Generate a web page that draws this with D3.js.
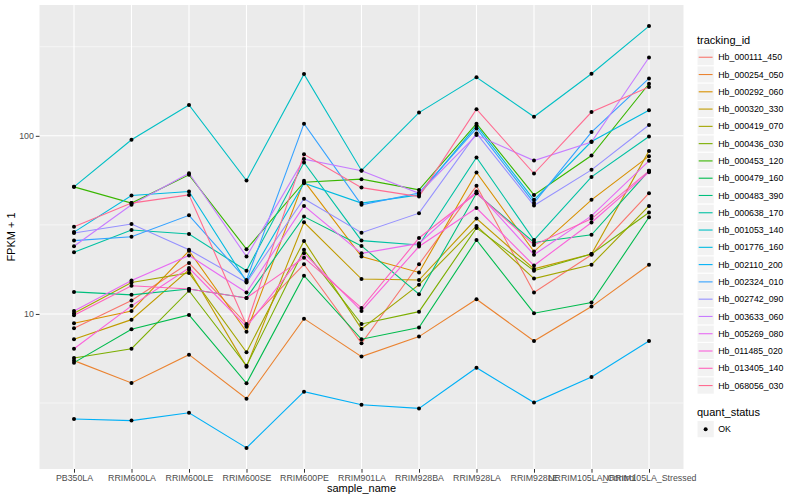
<!DOCTYPE html>
<html>
<head>
<meta charset="utf-8">
<script src="https://cdn.jsdelivr.net/npm/d3@7"></script>
<style>
  body { margin: 0; background: #fff; }
  text { font-family: "Liberation Sans", Arial, sans-serif; }
</style>
</head>
<body>
<div id="chart"></div>
<script>
'use strict';

// ------------------------------------
// DATA (FPKM + 1)
// ------------------------------------
const samples = ["PB350LA", "RRIM600LA", "RRIM600LE", "RRIM600SE", "RRIM600PE", "RRIM901LA",
  "RRIM928BA", "RRIM928LA", "RRIM928LE", "NRRIM105LA_Control", "NRRIM105LA_Stressed"];

const trackingIds = ["Hb_000111_450", "Hb_000254_050", "Hb_000292_060", "Hb_000320_330",
  "Hb_000419_070", "Hb_000436_030", "Hb_000453_120", "Hb_000479_160", "Hb_000483_390",
  "Hb_000638_170", "Hb_001053_140", "Hb_001776_160", "Hb_002110_200", "Hb_002324_010",
  "Hb_002742_090", "Hb_003633_060", "Hb_005269_080", "Hb_011485_020", "Hb_013405_140",
  "Hb_068056_030"];

const lineColors = ["#F8766D", "#EA8331", "#D89000", "#C09B00", "#A3A500", "#7CAE00",
  "#39B600", "#00BB4E", "#00BF7D", "#00C1A3", "#00BFC4", "#00BAE0", "#00B0F6", "#35A2FF",
  "#9590FF", "#C77CFF", "#E76BF3", "#FA62DB", "#FF62BC", "#FF6C91"];

// one row per tracking_id, one value per sample
const fpkm = [
  [8.31, 11.9, 19.3, 8.78, 19.0, 6.84, 19.0, 52.4, 13.2, 21.5, 47.6],
  [5.47, 4.10, 5.91, 3.34, 9.41, 5.76, 7.46, 12.1, 7.05, 11.0, 18.9],
  [8.87, 10.4, 22.6, 7.95, 55.9, 21.0, 17.1, 62.2, 22.4, 43.7, 76.9],
  [7.21, 9.29, 17.7, 5.06, 32.7, 15.7, 15.5, 34.3, 17.9, 21.7, 82.3],
  [10.1, 15.0, 17.0, 6.09, 25.7, 8.24, 14.6, 31.2, 15.8, 18.9, 40.4],
  [5.66, 6.38, 13.5, 5.12, 22.9, 8.78, 10.3, 30.4, 17.5, 21.7, 37.1],
  [51.7, 41.9, 60.4, 23.1, 54.9, 57.1, 49.7, 117, 46.6, 77.5, 196],
  [5.33, 8.20, 9.87, 4.08, 16.4, 7.21, 8.38, 26.0, 10.1, 11.6, 34.9],
  [13.3, 12.8, 13.8, 12.3, 35.2, 24.1, 12.9, 47.6, 25.2, 27.8, 63.6],
  [22.2, 29.6, 28.1, 17.5, 70.8, 25.8, 24.4, 75.5, 26.0, 58.8, 99.1],
  [51.7, 95.0, 149, 56.1, 222, 63.9, 135, 213, 128, 223, 413],
  [28.8, 46.2, 48.7, 15.2, 54.2, 41.9, 46.6, 114, 43.7, 92.9, 139],
  [2.57, 2.52, 2.79, 1.77, 3.66, 3.09, 2.95, 4.99, 3.18, 4.43, 7.05],
  [25.8, 27.1, 35.8, 15.5, 117, 41.0, 47.8, 110, 42.0, 105, 210],
  [28.5, 32.0, 22.9, 15.0, 44.3, 28.6, 36.8, 103, 40.6, 64.4, 115],
  [24.0, 41.0, 61.7, 21.0, 74.0, 63.6, 47.6, 101, 72.6, 92.2, 275],
  [10.4, 15.4, 21.3, 13.2, 40.4, 21.9, 24.9, 48.7, 21.5, 35.5, 72.4],
  [6.38, 11.1, 18.1, 8.48, 21.9, 10.4, 23.9, 39.3, 18.7, 32.6, 62.5],
  [9.83, 14.4, 13.8, 12.3, 20.7, 10.8, 26.7, 47.6, 24.4, 34.2, 63.6],
  [30.9, 41.9, 46.6, 8.68, 78.7, 51.2, 45.6, 141, 61.4, 136, 188]
];

const yTicks = [10, 100];
const yMinorTicks = [Math.pow(10, 0.5), Math.pow(10, 1.5), Math.pow(10, 2.5)];
const statusLabels = ["OK"];

// ------------------------------------
// SETUP
// ------------------------------------
const width = 800;
const height = 500;
const panel = { left: 39.5, right: 683.5, top: 5, bottom: 469 };

const svg = d3.select("#chart").append("svg")
  .attr("width", width)
  .attr("height", height);

const x = d3.scalePoint()
  .domain(samples)
  .range([panel.left, panel.right])
  .padding(0.6);

// log scale with ggplot's 5% expansion (in log space)
const allVals = fpkm.flat();
const lo = Math.log10(d3.min(allVals));
const hi = Math.log10(d3.max(allVals));
const pad = (hi - lo) * 0.05;
const y = d3.scaleLog()
  .domain([Math.pow(10, lo - pad), Math.pow(10, hi + pad)])
  .range([panel.bottom, panel.top]);

// panel background + grid
svg.append("rect")
  .attr("x", panel.left).attr("y", panel.top)
  .attr("width", panel.right - panel.left)
  .attr("height", panel.bottom - panel.top)
  .attr("fill", "#EBEBEB");

const grid = svg.append("g");
grid.selectAll(".minor")
  .data(yMinorTicks)
  .join("line")
  .attr("x1", panel.left).attr("x2", panel.right)
  .attr("y1", d => y(d)).attr("y2", d => y(d))
  .attr("stroke", "#fff").attr("stroke-width", 0.55);

grid.selectAll(".major-y")
  .data(yTicks)
  .join("line")
  .attr("x1", panel.left).attr("x2", panel.right)
  .attr("y1", d => y(d)).attr("y2", d => y(d))
  .attr("stroke", "#fff").attr("stroke-width", 1.1);

grid.selectAll(".major-x")
  .data(samples)
  .join("line")
  .attr("x1", d => x(d)).attr("x2", d => x(d))
  .attr("y1", panel.top).attr("y2", panel.bottom)
  .attr("stroke", "#fff").attr("stroke-width", 1.1);

// ------------------------------------
// LINES + POINTS
// ------------------------------------
const line = d3.line()
  .x((d, i) => x(samples[i]))
  .y(d => y(d));

svg.append("g")
  .selectAll("path")
  .data(fpkm)
  .join("path")
  .attr("fill", "none")
  .attr("stroke", (d, i) => lineColors[i])
  .attr("stroke-width", 1.1)
  .attr("d", line);

const pts = fpkm.flatMap(row => row.map((v, i) => ({ s: samples[i], v })));
svg.append("g")
  .selectAll("circle")
  .data(pts)
  .join("circle")
  .attr("cx", d => x(d.s))
  .attr("cy", d => y(d.v))
  .attr("r", 2)
  .attr("fill", "#000");

// ------------------------------------
// AXES
// ------------------------------------
const xAxis = svg.append("g")
  .attr("transform", `translate(0, ${panel.bottom})`)
  .call(d3.axisBottom(x).tickSize(3.7).tickPadding(2));
xAxis.select(".domain").remove();
xAxis.selectAll(".tick line").attr("stroke", "#333");
xAxis.selectAll(".tick text")
  .attr("fill", "#4D4D4D")
  .attr("font-size", 8.8)
  .attr("font-family", "Liberation Sans, Arial, sans-serif");

const yAxis = svg.append("g")
  .attr("transform", `translate(${panel.left}, 0)`)
  .call(d3.axisLeft(y).tickValues(yTicks).tickFormat(d3.format("d")).tickSize(3.7).tickPadding(2));
yAxis.select(".domain").remove();
yAxis.selectAll(".tick line").attr("stroke", "#333");
yAxis.selectAll(".tick text")
  .attr("fill", "#4D4D4D")
  .attr("font-size", 8.8)
  .attr("font-family", "Liberation Sans, Arial, sans-serif");

svg.append("text")
  .attr("x", (panel.left + panel.right) / 2)
  .attr("y", 492)
  .attr("text-anchor", "middle")
  .attr("font-size", 11)
  .text("sample_name");

svg.append("text")
  .attr("transform", `translate(15, ${(panel.top + panel.bottom) / 2}) rotate(-90)`)
  .attr("text-anchor", "middle")
  .attr("font-size", 11)
  .text("FPKM + 1");

// ------------------------------------
// LEGENDS
// ------------------------------------
const legX = 697;
const keySize = 17.28;
const legTop = 48.6;

svg.append("text")
  .attr("x", legX).attr("y", 44)
  .attr("font-size", 11)
  .text("tracking_id");

const keys = svg.append("g")
  .selectAll("g")
  .data(trackingIds)
  .join("g")
  .attr("transform", (d, i) => `translate(${legX}, ${legTop + i * keySize})`);

keys.append("rect")
  .attr("width", keySize).attr("height", keySize)
  .attr("fill", "#F2F2F2").attr("stroke", "#fff");

keys.append("line")
  .attr("x1", 1.7).attr("x2", keySize - 1.7)
  .attr("y1", keySize / 2).attr("y2", keySize / 2)
  .attr("stroke", (d, i) => lineColors[i])
  .attr("stroke-width", 1.1);

keys.append("text")
  .attr("x", keySize + 4)
  .attr("y", keySize / 2)
  .attr("dy", "0.35em")
  .attr("font-size", 8.8)
  .text(d => d);

svg.append("text")
  .attr("x", legX).attr("y", 416)
  .attr("font-size", 11)
  .text("quant_status");

const sKeys = svg.append("g")
  .selectAll("g")
  .data(statusLabels)
  .join("g")
  .attr("transform", (d, i) => `translate(${legX}, ${420.5 + i * keySize})`);

sKeys.append("rect")
  .attr("width", keySize).attr("height", keySize)
  .attr("fill", "#F2F2F2").attr("stroke", "#fff");

sKeys.append("circle")
  .attr("cx", keySize / 2).attr("cy", keySize / 2)
  .attr("r", 2).attr("fill", "#000");

sKeys.append("text")
  .attr("x", keySize + 4)
  .attr("y", keySize / 2)
  .attr("dy", "0.35em")
  .attr("font-size", 8.8)
  .text(d => d);
</script>
</body>
</html>
